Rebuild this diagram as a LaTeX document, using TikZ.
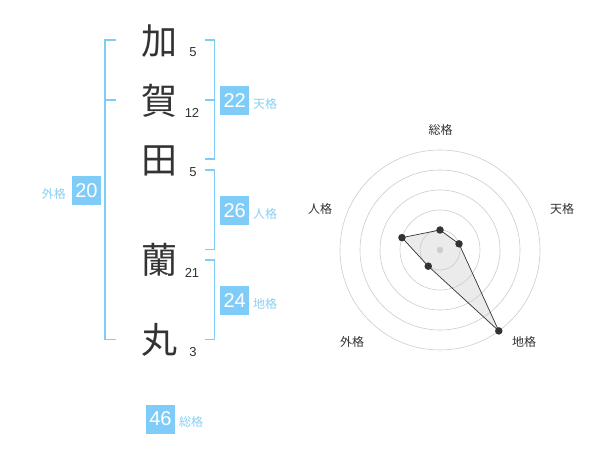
\documentclass[tikz,border=0pt]{standalone}
\usepackage{fontspec}
\setmainfont{Liberation Sans}
\newfontfamily\cjk{Noto Sans CJK JP}
\definecolor{bl}{HTML}{80CCF8}
\definecolor{bltxt}{HTML}{88CFF5}
\definecolor{ink}{HTML}{333333}
\definecolor{ring}{HTML}{CCCCCC}
\definecolor{polyfill}{HTML}{EBEBEB}
\begin{document}
\begin{tikzpicture}[x=1pt,y=-1pt,
  kanji/.style={font=\cjk\fontsize{36}{36}\selectfont,text=ink,inner sep=0pt},
  strokes/.style={font=\fontsize{13}{13}\selectfont,text=ink,inner sep=0pt},
  numbox/.style={fill=bl,text=white,minimum width=29pt,minimum height=29pt,inner sep=0pt,font=\fontsize{20}{20}\selectfont},
  kaku/.style={font=\cjk\fontsize{12}{12}\selectfont,text=bltxt,inner sep=0pt},
  brk/.style={draw=bl,line width=1.6pt},
  axlab/.style={font=\cjk\fontsize{12}{12}\selectfont,text=ink,inner sep=0pt},
  dot/.style={circle,fill=ink,inner sep=0pt,minimum size=7.5pt}]
\useasboundingbox (0,0) rectangle (600,470);
% characters
\node[kanji] (c1) at (159,41) {加};
\node[kanji] (c2) at (159,101) {賀};
\node[kanji] (c3) at (159,161) {田};
\node[kanji] (c4) at (159,260) {蘭};
\node[kanji] (c5) at (159,340) {丸};
\node[strokes] (s1) at (193,52.5) {5};
\node[strokes] (s2) at (192,113) {12};
\node[strokes] (s3) at (193,172.5) {5};
\node[strokes] (s4) at (192,272.5) {21};
\node[strokes] (s5) at (193,352.5) {3};
% brackets
\draw[brk] (116,40) -- (105,40) -- (105,339.5) -- (116,339.5);
\draw[brk] (105,100) -- (116,100);
\draw[brk] (205,40) -- (214.5,40) -- (214.5,159) -- (205,159);
\draw[brk] (205,100) -- (214.5,100);
\draw[brk] (205,170) -- (214.5,170) -- (214.5,249.5) -- (205,249.5);
\draw[brk] (205,260) -- (214.5,260) -- (214.5,339.5) -- (205,339.5);
% boxes
\node[numbox] (b1) at (234.7,100.3) {22};
\node[kaku,anchor=west] (k1) at (253,104) {天格};
\node[numbox] (b2) at (234.7,211) {26};
\node[kaku,anchor=west] (k2) at (253,214) {人格};
\node[numbox] (b3) at (234.7,300.5) {24};
\node[kaku,anchor=west] (k3) at (253,303.7) {地格};
\node[numbox] (b4) at (86.5,190.5) {20};
\node[kaku,anchor=east] (k4) at (66,194.3) {外格};
\node[numbox] (b5) at (160.5,419) {46};
\node[kaku,anchor=west] (k5) at (179,422.3) {総格};
% radar
\coordinate (O) at (440,250);
\path (O) ++(90:-20) coordinate (p1);
\path (O) ++(-18:20) coordinate (p2);
\path (O) ++(54:100) coordinate (p3);
\path (O) ++(126:20) coordinate (p4);
\path (O) ++(198:40) coordinate (p5);
\fill[polyfill] (p1) -- (p2) -- (p3) -- (p4) -- (p5) -- cycle;
\foreach \r in {20,40,60,80,100} \draw[ring,line width=0.6pt] (O) circle (\r);
\fill[ring] (O) circle (3.2);
\draw[ink,line width=0.7pt] (p1) -- (p2) -- (p3) -- (p4) -- (p5) -- cycle;
\foreach \p in {p1,p2,p3,p4,p5} \node[dot] at (\p) {};
\node[axlab] (a1) at (440.5,130) {総格};
\node[axlab] (a2) at (562,208.5) {天格};
\node[axlab] (a3) at (524,341.5) {地格};
\node[axlab] (a4) at (352,341.5) {外格};
\node[axlab] (a5) at (320,208.5) {人格};
\end{tikzpicture}
\end{document}
